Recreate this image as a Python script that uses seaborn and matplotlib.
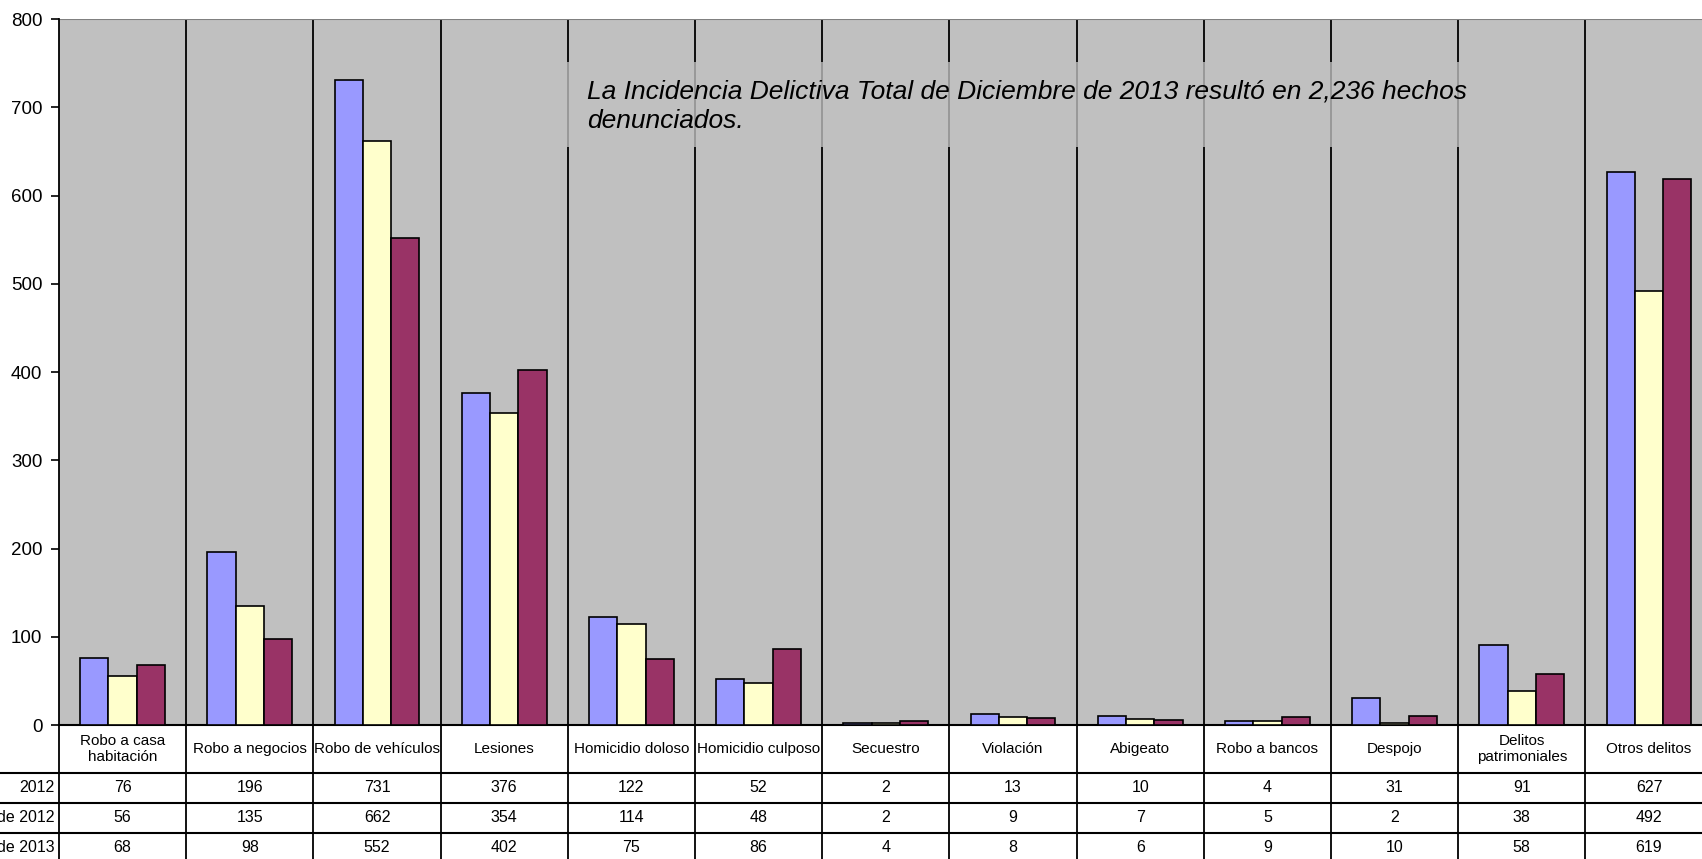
import matplotlib
matplotlib.use("Agg")
import matplotlib.pyplot as plt
import matplotlib.patches as mpatches
import matplotlib.transforms as mtrans
import pandas as pd
import seaborn as sns

# datos de la tabla
delitos = ["Robo a casa\nhabitación", "Robo a negocios", "Robo de vehículos", "Lesiones",
           "Homicidio doloso", "Homicidio culposo", "Secuestro", "Violación", "Abigeato",
           "Robo a bancos", "Despojo", "Delitos\npatrimoniales", "Otros delitos"]
periodos = ["2012", "de 2012", "de 2013"]
serie_1 = [76, 196, 731, 376, 122, 52, 2, 13, 10, 4, 31, 91, 627]
serie_2 = [56, 135, 662, 354, 114, 48, 2, 9, 7, 5, 2, 38, 492]
serie_3 = [68, 98, 552, 402, 75, 86, 4, 8, 6, 9, 10, 58, 619]
colores = ["#9999ff", "#ffffcc", "#993366"]
yticks = [0, 100, 200, 300, 400, 500, 600, 700, 800]

series = [serie_1, serie_2, serie_3]
df = pd.DataFrame({
    "delito": delitos * 3,
    "periodo": [p for p in periodos for _ in delitos],
    "valor": serie_1 + serie_2 + serie_3,
})

sns.set_style("white")
plt.rcParams["font.family"] = ["Liberation Sans", "DejaVu Sans"]
plt.rcParams["text.color"] = "black"
plt.rcParams["ytick.labelcolor"] = "black"

W, H = 1702, 859
fig = plt.figure(figsize=(W / 100, H / 100), dpi=100)
left_px, top_px, zero_px, col_px = 59, 19, 725, 127.2
ax = fig.add_axes([left_px / W, (H - zero_px) / H,
                   13 * col_px / W, (zero_px - top_px) / H])
ax.set_facecolor("#c0c0c0")

sns.barplot(data=df, x="delito", y="valor", hue="periodo", palette=colores,
            width=0.667, edgecolor="black", linewidth=1.2, saturation=1,
            legend=False, ax=ax, zorder=3)

ax.set_xlim(-0.5, 12.5)
ax.set_ylim(0, 800)
ax.set_yticks(yticks)
ax.set_yticklabels([str(t) for t in yticks], fontsize=13.5, color="black")
ax.tick_params(axis="y", length=6, width=1.2, color="black", pad=6, left=True)
ax.set_xticks([])
ax.set_xlabel("")
ax.set_ylabel("")
for s in ["right", "top"]:
    ax.spines[s].set_visible(False)
ax.spines["left"].set_color("black")
ax.spines["left"].set_linewidth(1.3)
ax.spines["bottom"].set_color("black")
ax.spines["bottom"].set_linewidth(1.5)
ax.axhline(800, color="#808080", lw=1.5, zorder=2)

# divisiones entre categorías
for i in range(13):
    ax.axvline(i + 0.5, color="black", lw=1.3, zorder=1)

# recuadro del texto
ax.add_patch(mpatches.Rectangle((3.48, 655), 7.08, 96, facecolor="#c0c0c0",
                                edgecolor="none", alpha=0.78, zorder=2))
ax.text(3.65, 701, "La Incidencia Delictiva Total de Diciembre de 2013 resultó en 2,236 hechos\ndenunciados.",
        fontsize=19, style="italic", color="black", va="center", ha="left",
        linespacing=1.25, zorder=4)

# tabla de datos
def fy(px):
    return (H - px) / H

blend = mtrans.blended_transform_factory(ax.transData, fig.transFigure)
rows_px = [725, 773, 803, 833, 863]
for ypx in rows_px[1:4]:
    fig.add_artist(plt.Line2D([0, 1], [fy(ypx), fy(ypx)], color="black", lw=1.5,
                              transform=fig.transFigure))
for i in range(14):
    fig.add_artist(plt.Line2D([i - 0.5, i - 0.5], [fy(725), 0], color="black",
                              lw=1.3, transform=blend))

for i, d in enumerate(delitos):
    fig.text(i, fy((rows_px[0] + rows_px[1]) / 2), d, transform=blend,
             ha="center", va="center", fontsize=11, linespacing=1.1)
    for r, s in enumerate(series):
        fig.text(i, fy((rows_px[r + 1] + rows_px[r + 2]) / 2 - 1), str(s[i]),
                 transform=blend, ha="center", va="center", fontsize=11.5)

for r, p in enumerate(periodos):
    fig.text((left_px - 4) / W, fy((rows_px[r + 1] + rows_px[r + 2]) / 2 - 1), p,
             ha="right", va="center", fontsize=11.5)

fig.savefig("out.png", dpi=100)
